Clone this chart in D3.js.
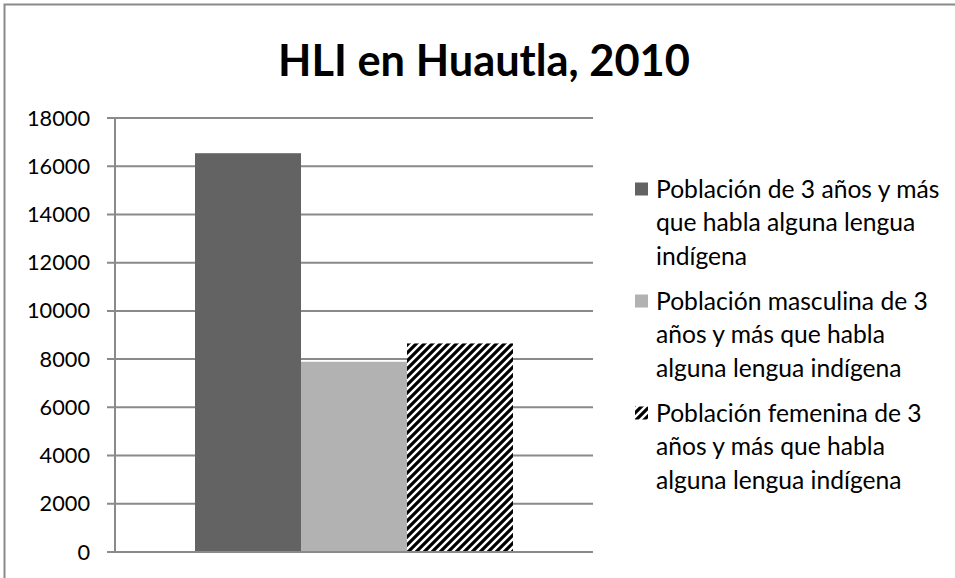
<!DOCTYPE html>
<html>
<head>
<meta charset="utf-8">
<script src="https://cdn.jsdelivr.net/npm/d3@7"></script>
<style>
  html, body { margin: 0; padding: 0; background: #fff; }
  svg { display: block; }
</style>
</head>
<body>
<svg id="chart" width="955" height="578"></svg>
<script>
// ---- data ----
const title = "HLI en Huautla, 2010";
const categories = [""];
const seriesNames = [
  "Población de 3 años y más que habla alguna lengua indígena",
  "Población masculina de 3 años y más que habla alguna lengua indígena",
  "Población femenina de 3 años y más que habla alguna lengua indígena"
];
const seriesLegendLines = [
  ["Población de 3 años y más", "que habla alguna lengua", "indígena"],
  ["Población masculina de 3", "años y más que habla", "alguna lengua indígena"],
  ["Población femenina de 3", "años y más que habla", "alguna lengua indígena"]
];
const seriesValues = [16540, 7890, 8650];
const yTicks = [0, 2000, 4000, 6000, 8000, 10000, 12000, 14000, 16000, 18000];

// ---- layout ----
const FONT = "Lato, 'Open Sans', sans-serif";
const svg = d3.select("#chart");
const plot = { left: 115, right: 593, top: 118, bottom: 552 };

// outer chart border (only left & top visible)
svg.append("rect")
  .attr("x", 4.5).attr("y", 4.5)
  .attr("width", 1200).attr("height", 1200)
  .attr("fill", "none").attr("stroke", "#8a8a8a").attr("stroke-width", 2);

// pattern for hatched bar
const defs = svg.append("defs");
const pat = defs.append("pattern")
  .attr("id", "hatch").attr("patternUnits", "userSpaceOnUse")
  .attr("width", 8).attr("height", 8);
pat.append("rect").attr("width", 8).attr("height", 8).attr("fill", "#fff");
pat.append("path")
  .attr("d", "M-2,2 L2,-2 M0,8 L8,0 M6,10 L10,6")
  .attr("stroke", "#000").attr("stroke-width", 3.2);

const fills = ["#636363", "#b2b2b2", "url(#hatch)"];

// scales
const y = d3.scaleLinear().domain([0, 18000]).range([plot.bottom, plot.top]);
const x0 = d3.scaleBand().domain(categories).range([plot.left, plot.right])
  .paddingInner(0).paddingOuter(0.2516);
const x1 = d3.scaleBand().domain(d3.range(seriesValues.length))
  .range([0, x0.bandwidth()]).padding(0);

// gridlines (including tick stubs to the left of the axis)
const grid = svg.append("g");
grid.selectAll("line").data(yTicks).join("line")
  .attr("x1", plot.left - 8).attr("x2", plot.right)
  .attr("y1", d => y(d)).attr("y2", d => y(d))
  .attr("stroke", "#8a8a8a").attr("stroke-width", 2);

// axis line
svg.append("line")
  .attr("x1", plot.left).attr("x2", plot.left)
  .attr("y1", y(18000)).attr("y2", y(0))
  .attr("stroke", "#8a8a8a").attr("stroke-width", 2);

// bars
svg.append("g").selectAll("rect").data(seriesValues).join("rect")
  .attr("x", (d, i) => x0(categories[0]) + x1(i))
  .attr("width", x1.bandwidth())
  .attr("y", d => y(d))
  .attr("height", d => y(0) - y(d))
  .attr("fill", (d, i) => fills[i]);

// redraw baseline on top
svg.append("line")
  .attr("x1", plot.left - 8).attr("x2", plot.right)
  .attr("y1", y(0)).attr("y2", y(0))
  .attr("stroke", "#8a8a8a").attr("stroke-width", 2);

// font fitting helper
function fitSize(text, weight, targetWidth) {
  const t = svg.append("text").attr("font-family", FONT).attr("font-weight", weight)
    .attr("font-size", 100).text(text);
  const w = t.node().getComputedTextLength();
  t.remove();
  return 100 * targetWidth / w;
}
const bodySize = fitSize("Población masculina de 3", 400, 272);
const tickSize = fitSize("18000", 400, 63);
const titleSize = fitSize(title, 700, 412);

// y tick labels
svg.append("g").selectAll("text").data(yTicks).join("text")
  .attr("x", 90).attr("y", d => y(d))
  .attr("dy", "0.35em")
  .attr("text-anchor", "end")
  .attr("font-family", FONT).attr("font-size", tickSize)
  .attr("fill", "#000")
  .text(d => d);

// title
svg.append("text")
  .attr("x", 484).attr("y", 76)
  .attr("text-anchor", "middle")
  .attr("font-family", FONT).attr("font-weight", 700)
  .attr("font-size", titleSize).attr("fill", "#000")
  .text(title);

// legend
const legendTop = 189, itemStep = 112, lineStep = 33.6;
const leg = svg.append("g");
seriesLegendLines.forEach((lines, i) => {
  const cy = legendTop + i * itemStep;
  leg.append("rect")
    .attr("x", 635).attr("y", cy - 6.5)
    .attr("width", 13).attr("height", 13)
    .attr("fill", fills[i]);
  leg.append("text")
    .attr("font-family", FONT).attr("font-size", bodySize).attr("fill", "#000")
    .selectAll("tspan").data(lines).join("tspan")
    .attr("x", 656).attr("y", (d, j) => cy + j * lineStep)
    .attr("dy", "0.35em")
    .text(d => d);
});
</script>
</body>
</html>
